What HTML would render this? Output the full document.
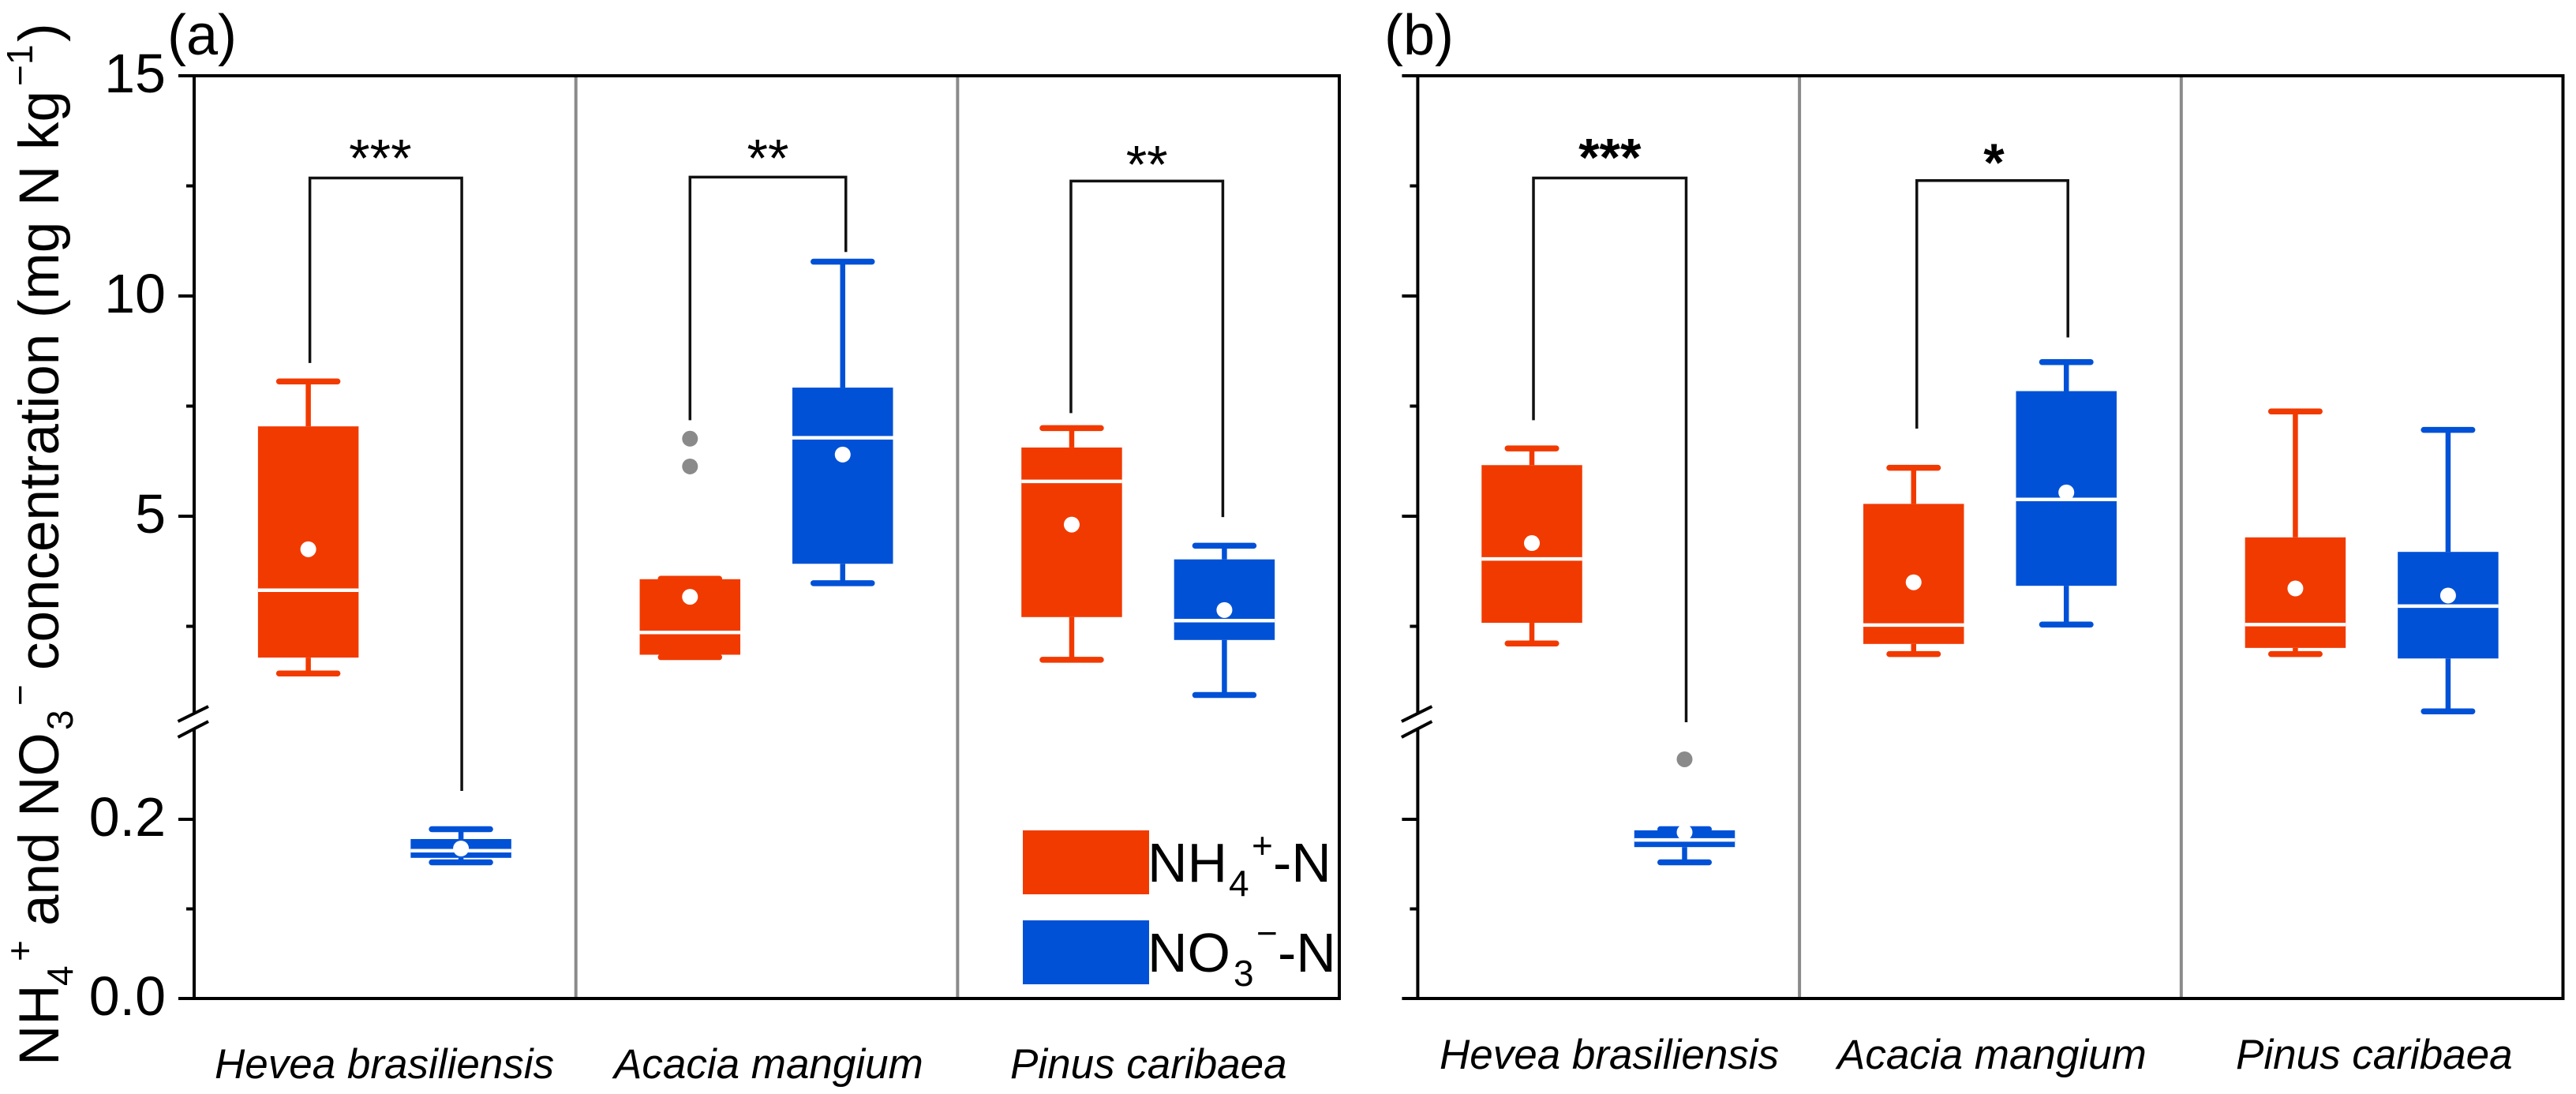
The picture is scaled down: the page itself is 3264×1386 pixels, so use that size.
<!DOCTYPE html>
<html lang="en">
<head>
<meta charset="utf-8">
<title>NH4+ and NO3- concentration box plots</title>
<style>
html,body{margin:0;padding:0;background:#fff;}
svg{display:block;}
text{font-family:"Liberation Sans",Arial,sans-serif;fill:#000;}
</style>
</head>
<body>
<svg id="chart" xmlns="http://www.w3.org/2000/svg" width="3264" height="1386" viewBox="0 0 3264 1386">
  <rect x="0" y="0" width="3264" height="1386" fill="#fff"/>
  <g id="layer-a"></g>
  <g id="layer-b"></g>

  <text x="212" y="69" font-size="72">(a)</text>
  <text x="1754" y="69" font-size="72">(b)</text>

  <text transform="translate(74,1350) rotate(-90)" font-size="71"><tspan x="0" y="0">NH</tspan><tspan x="101" y="18" font-size="46">4</tspan><tspan x="132" y="-33" font-size="46">+</tspan><tspan x="177" y="0">and NO</tspan><tspan x="425" y="18" font-size="46">3</tspan><tspan x="456" y="-33" font-size="46">−</tspan><tspan x="501" y="0">concentration (mg N kg</tspan><tspan x="1241" y="-33" font-size="46">−</tspan><tspan x="1268" y="-33" font-size="46">1</tspan><tspan x="1297" y="0">)</tspan></text>

  <g>
    <rect x="1296" y="1052" width="160" height="81" fill="#F13A00"/>
    <text font-size="70"><tspan x="1454" y="1117">NH</tspan><tspan x="1557" y="1135" font-size="46">4</tspan><tspan x="1586" y="1087" font-size="46">+</tspan><tspan x="1613" y="1117">-N</tspan></text>
    <rect x="1296" y="1166" width="160" height="81" fill="#0051D6"/>
    <text font-size="70"><tspan x="1454" y="1231">NO</tspan><tspan x="1563" y="1249" font-size="46">3</tspan><tspan x="1592" y="1198" font-size="46">−</tspan><tspan x="1619" y="1231">-N</tspan></text>
  </g>
</svg>
<script>
// ---- categories and tick labels ----
const categories = ['Hevea brasiliensis', 'Acacia mangium', 'Pinus caribaea'];
const upperMajorTicks = [5, 10, 15];
const upperMinorTicks = [2.5, 7.5, 12.5];
const lowerMajorTicks = [0, 0.2];
const lowerMinorTicks = [0.1];
const upperTickLabels = ['5', '10', '15'];
const lowerTickLabels = ['0.0', '0.2'];

// ---- panel (a), NH4+ ----
const aNH4Low = [1.43, 1.80, 1.74];
const aNH4Q1 = [1.79, 1.855, 2.71];
const aNH4Median = [3.32, 2.36, 5.79];
const aNH4Q3 = [7.04, 3.57, 6.56];
const aNH4High = [8.06, 3.58, 7.00];
const aNH4Mean = [4.25, 3.17, 4.81];
const aNH4Outliers = [[], [6.76, 6.13], []];
// ---- panel (a), NO3- ----
const aNO3Low = [0.152, 3.48, 0.94];
const aNO3Q1 = [0.157, 3.92, 2.19];
const aNO3Median = [0.165, 6.78, 2.63];
const aNO3Q3 = [0.178, 7.92, 4.02];
const aNO3High = [0.189, 10.78, 4.33];
const aNO3Mean = [0.1674, 6.40, 2.87];
const aNO3Outliers = [[], [], []];
// ---- panel (b), NH4+ ----
const bNH4Low = [2.11, 1.87, 1.87];
const bNH4Q1 = [2.58, 2.10, 2.01];
const bNH4Median = [4.03, 2.53, 2.54];
const bNH4Q3 = [6.16, 5.28, 4.52];
const bNH4High = [6.54, 6.10, 7.38];
const bNH4Mean = [4.39, 3.50, 3.36];
const bNH4Outliers = [[], [], []];
// ---- panel (b), NO3- ----
const bNO3Low = [0.152, 2.54, 0.57];
const bNO3Q1 = [0.169, 3.42, 1.77];
const bNO3Median = [0.177, 5.38, 2.96];
const bNO3Q3 = [0.1877, 7.84, 4.19];
const bNO3High = [0.189, 8.50, 6.96];
const bNO3Mean = [0.1855, 5.54, 3.20];
const bNO3Outliers = [[0.267], [], []];

// ---- significance brackets (values on the y axis) ----
const aBracketStars = ['***', '**', '**'];
const aBracketTop = [12.68, 12.70, 12.61];
const aBracketLeftEnd = [8.48, 7.18, 7.34];
const aBracketRightEnd = [0.2317, 11.0, 4.98];
const bBracketStars = ['***', '*'];
const bBracketTop = [12.68, 12.62];
const bBracketLeftEnd = [7.18, 6.99];
const bBracketRightEnd = [0.3084, 9.06];

// ---- axis functions ----
const NS = 'http://www.w3.org/2000/svg';
const RED = '#F13A00', BLUE = '#0051D6', GREY = '#8A8A8A';
const TOP = 96, BOTTOM = 1265;
function yAxis(v) {
  if (v <= 0.4) return 1265 - v * 1135;
  return 654 - (v - 5) * 55.8;
}
function bandX(panel, cat) { return panel.left + cat * panel.band; }
function boxX(panel, cat, series) {
  return bandX(panel, cat) + panel.band * (series === 0 ? 0.299 : 0.699);
}
function make(parent, tag, attrs, text) {
  const el = document.createElementNS(NS, tag);
  for (const k in attrs) el.setAttribute(k, attrs[k]);
  if (text !== undefined) el.textContent = text;
  parent.appendChild(el);
  return el;
}
function line(parent, x1, y1, x2, y2, color, w, cap) {
  return make(parent, 'line', {x1, y1, x2, y2, stroke: color, 'stroke-width': w, 'stroke-linecap': cap || 'butt'});
}

function drawFrame(root, panel, showLabels) {
  const L = panel.left, R = panel.left + panel.band * 3;
  for (let i = 1; i < 3; i++) {
    const sep = line(root, bandX(panel, i), TOP, bandX(panel, i), BOTTOM, GREY, 4);
    
    
  }
  const spine = make(root, 'path', {d: 'M' + L + ' ' + TOP + 'H' + R + 'V' + BOTTOM + 'H' + L + 'Z', fill: 'none', stroke: '#000', 'stroke-width': 4});
  
  

  const majorValues = upperMajorTicks.concat(lowerMajorTicks);
  const majorLabels = upperTickLabels.concat(lowerTickLabels);
  majorValues.forEach(function (v, i) {
    const t = line(root, L - 20, yAxis(v), L, yAxis(v), '#000', 4);
    
    
    if (showLabels) {
      const lt = make(root, 'text', {x: L - 36, y: yAxis(v) + 21, 'text-anchor': 'end', 'font-size': 70}, majorLabels[i]);
      
      
    }
  });
  upperMinorTicks.concat(lowerMinorTicks).forEach(function (v) {
    const t = line(root, L - 10, yAxis(v), L, yAxis(v), '#000', 4);
    
    
  });

  // axis break
  const gap = make(root, 'rect', {x: L - 4, y: 905, width: 8, height: 19, fill: '#fff'});
  
  
  const b1 = line(root, L - 20.5, 914, L + 18, 895, '#000', 4);
  
  
  const b2 = line(root, L - 20.5, 934, L + 18, 914, '#000', 4);
  
  

  categories.forEach(function (c, i) {
    const t = make(root, 'text', {x: panel.labelX[i], y: panel.labelY, 'font-size': 53, 'font-style': 'italic'}, c);
    
    
  });
}

function drawSeries(root, panel, series, color, low, q1, med, q3, high, mean, outliers, key) {
  categories.forEach(function (c, i) {
    const g = make(root, 'g', {});
    
    
    const cx = boxX(panel, i, series), bw = panel.band * 0.2636, ch = panel.cap / 2 - 3.5;
    const sw = 6.5;
    const s1 = line(g, cx, yAxis(q3[i]), cx, yAxis(high[i]), color, sw);
    
    
    const s2 = line(g, cx, yAxis(q1[i]), cx, yAxis(low[i]), color, sw);
    
    
    const c1 = line(g, cx - ch, yAxis(high[i]), cx + ch, yAxis(high[i]), color, 7.5, 'round');
    
    
    const c2 = line(g, cx - ch, yAxis(low[i]), cx + ch, yAxis(low[i]), color, 7.5, 'round');
    
    
    const r = make(g, 'rect', {x: cx - bw / 2, y: yAxis(q3[i]), width: bw, height: yAxis(q1[i]) - yAxis(q3[i]), fill: color});
    
    
    const m = line(g, cx - bw / 2, yAxis(med[i]), cx + bw / 2, yAxis(med[i]), '#fff', 4.5);
    
    
    const d = make(g, 'circle', {cx: cx, cy: yAxis(mean[i]), r: 10, fill: '#fff'});
    
    
    outliers[i].forEach(function (v) {
      const o = make(g, 'circle', {cx: cx, cy: yAxis(v), r: 10, fill: GREY});
      
      
    });
  });
}

function drawBracket(root, panel, cat, stars, top, leftEnd, rightEnd, dxL, dxR, starDx, starDy, bold) {
  const xl = boxX(panel, cat, 0) + dxL, xr = boxX(panel, cat, 1) + dxR;
  const p = make(root, 'path', {d: 'M' + xl + ' ' + yAxis(leftEnd) + 'V' + yAxis(top) + 'H' + xr + 'V' + yAxis(rightEnd), fill: 'none', stroke: '#111', 'stroke-width': 3.5});
  
  
  const t = make(root, 'text', {x: (xl + xr) / 2 + starDx, y: yAxis(top) + starDy, 'text-anchor': 'middle', 'font-size': 68, 'font-weight': bold ? 'bold' : 'normal'}, stars);
  
  
}

const panelA = {left: 246, band: 483.67, cap: 81, labelX: [272, 778, 1280], labelY: 1366};
const panelB = {left: 1796.4, band: 483.7, cap: 68.5, labelX: [1824, 2328, 2833], labelY: 1354};

const layerA = document.getElementById('layer-a');
const layerB = document.getElementById('layer-b');
drawFrame(layerA, panelA, true);
drawFrame(layerB, panelB, false);
drawSeries(layerA, panelA, 0, RED, aNH4Low, aNH4Q1, aNH4Median, aNH4Q3, aNH4High, aNH4Mean, aNH4Outliers, 'a-nh4');
drawSeries(layerA, panelA, 1, BLUE, aNO3Low, aNO3Q1, aNO3Median, aNO3Q3, aNO3High, aNO3Mean, aNO3Outliers, 'a-no3');
drawSeries(layerB, panelB, 0, RED, bNH4Low, bNH4Q1, bNH4Median, bNH4Q3, bNH4High, bNH4Mean, bNH4Outliers, 'b-nh4');
drawSeries(layerB, panelB, 1, BLUE, bNO3Low, bNO3Q1, bNO3Median, bNO3Q3, bNO3High, bNO3Mean, bNO3Outliers, 'b-no3');

drawBracket(layerA, panelA, 0, aBracketStars[0], aBracketTop[0], aBracketLeftEnd[0], aBracketRightEnd[0], 2, 1, -7, -2, false);
drawBracket(layerA, panelA, 1, aBracketStars[1], aBracketTop[1], aBracketLeftEnd[1], aBracketRightEnd[1], 0, 4, 0, -1, false);
drawBracket(layerA, panelA, 2, aBracketStars[2], aBracketTop[2], aBracketLeftEnd[2], aBracketRightEnd[2], -1, -2, 0, 2, false);
drawBracket(layerB, panelB, 0, bBracketStars[0], bBracketTop[0], bBracketLeftEnd[0], bBracketRightEnd[0], 2, 2, 0, -3, true);
drawBracket(layerB, panelB, 1, bBracketStars[1], bBracketTop[1], bBracketLeftEnd[1], bBracketRightEnd[1], 4, 2, 2, 0, true);
</script>
</body>
</html>
